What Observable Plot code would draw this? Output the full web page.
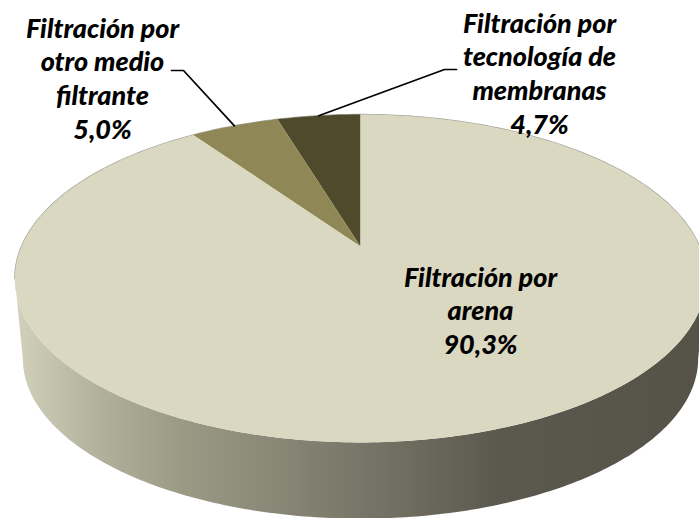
<!DOCTYPE html>
<html lang="es">
<head>
<meta charset="utf-8">
<script src="https://cdn.jsdelivr.net/npm/d3@7"></script>
<script src="https://cdn.jsdelivr.net/npm/@observablehq/plot@0.6"></script>
<style>
html,body{margin:0;padding:0;background:#fff}
svg{display:block}
</style>
</head>
<body>
<div id="chart"></div>
<script>
// Data, clockwise starting at the wedge that ends at 12 o'clock
const categories = ["Filtración por tecnología de membranas", "Filtración por otro medio filtrante", "Filtración por arena"];
const shares = [4.7, 5.0, 90.3];
const shareLabels = ["4,7%", "5,0%", "90,3%"];
const sliceColors = ["#4f4a2b", "#8f8856", "#dad8c0"];
const labelLines = [
  "Filtración por\ntecnología de\nmembranas\n4,7%",
  "Filtración por\notro medio\nfiltrante\n5,0%",
  "Filtración por\narena\n90,3%"
];

// Chart geometry
const W = 699, H = 518, cx = 360, cy = 246, R = 339, S = 157.7, k = 0.195;
const toUnitX = px => (px - cx) / R;
const toUnitY = py => (cy - py) / S;

// Perspective disc: a = angle in degrees, clockwise from the back of the disc, negative = left
const rim = a => {
  const r = a * Math.PI / 180, w = 1 + k * Math.cos(r);
  return {x: Math.sin(r) / w, y: Math.cos(r) / w};
};
const span = (a0, a1, n = 120) => d3.range(n + 1).map(i => rim(a0 + (a1 - a0) * i / n));

// Wedges run counter-clockwise from 12 o'clock for the two small ones
let acc = 0;
const slices = shares.map((v, i) => {
  const a0 = -acc * 3.6; acc += v; const a1 = -acc * 3.6;
  return {name: categories[i], color: sliceColors[i], a0, a1, mid: (a0 + a1) / 2,
          pts: [{x: 0, y: 0}, ...span(a0, a1, Math.max(12, Math.round(v * 4)))]};
});

// Side wall: lower rim is the top rim moved down and slightly reduced
const ellipseCenterY = toUnitY(278), depth = 80 / S, shrink = 0.977;
const lower = p => ({x: p.x * shrink, y: ellipseCenterY + (p.y - ellipseCenterY) * shrink - depth});
const tangent = Math.acos(-k) * 180 / Math.PI;
const frontArc = span(tangent, 360 - tangent, 200);
const wall = [...frontArc.map(lower), ...frontArc.slice().reverse()];
const backRim = span(-tangent, tangent, 200);

// Labels and leader lines
const labelPos = [[539, 72], [102, 77], [480, 309]];
const labels = labelLines.map((text, i) => ({text, x: toUnitX(labelPos[i][0]), y: toUnitY(labelPos[i][1])}));
const leaderElbows = [[[444, 69], [456, 69]], [[183, 70], [171, 70]]];
const leaders = leaderElbows.map((e, i) => [rim(slices[i].mid), ...e.map(([a, b]) => ({x: toUnitX(a), y: toUnitY(b)}))]);

const gradient = () => {
  const defs = d3.create("svg:defs");
  const g = defs.append("linearGradient").attr("id", "wall");
  [[0, "#d2d1bb"], [0.12, "#b2b19b"], [0.24, "#9b9a85"], [0.5, "#787668"], [0.7, "#5b594e"], [1, "#555347"]]
    .forEach(([o, c]) => g.append("stop").attr("offset", o).attr("stop-color", c));
  return defs.node();
};

const chart = Plot.plot({
  width: W, height: H, margin: 0,
  x: {domain: [toUnitX(0), toUnitX(W)], range: [0, W], axis: null},
  y: {domain: [toUnitY(H), toUnitY(0)], range: [H, 0], axis: null},
  style: {background: "#fff"},
  marks: [
    gradient,
    Plot.line(wall, {x: "x", y: "y", fill: "url(#wall)", stroke: "none"}),
    Plot.line(backRim, {x: "x", y: "y", stroke: "#a6a69c", strokeWidth: 1.4}),
    ...slices.map(s => Plot.line(s.pts, {x: "x", y: "y", fill: s.color, stroke: "none"})),
    ...leaders.map(l => Plot.line(l, {x: "x", y: "y", stroke: "#000", strokeWidth: 1.7})),
    Plot.text(labels, {
      x: "x", y: "y", text: "text", textAnchor: "middle", lineAnchor: "middle",
      lineHeight: 1.25, fontSize: 27, fontWeight: 900, fontStyle: "italic",
      fontFamily: "Lato, 'Open Sans', sans-serif", fill: "#000"
    })
  ]
});
document.getElementById("chart").append(chart);
</script>
</body>
</html>
